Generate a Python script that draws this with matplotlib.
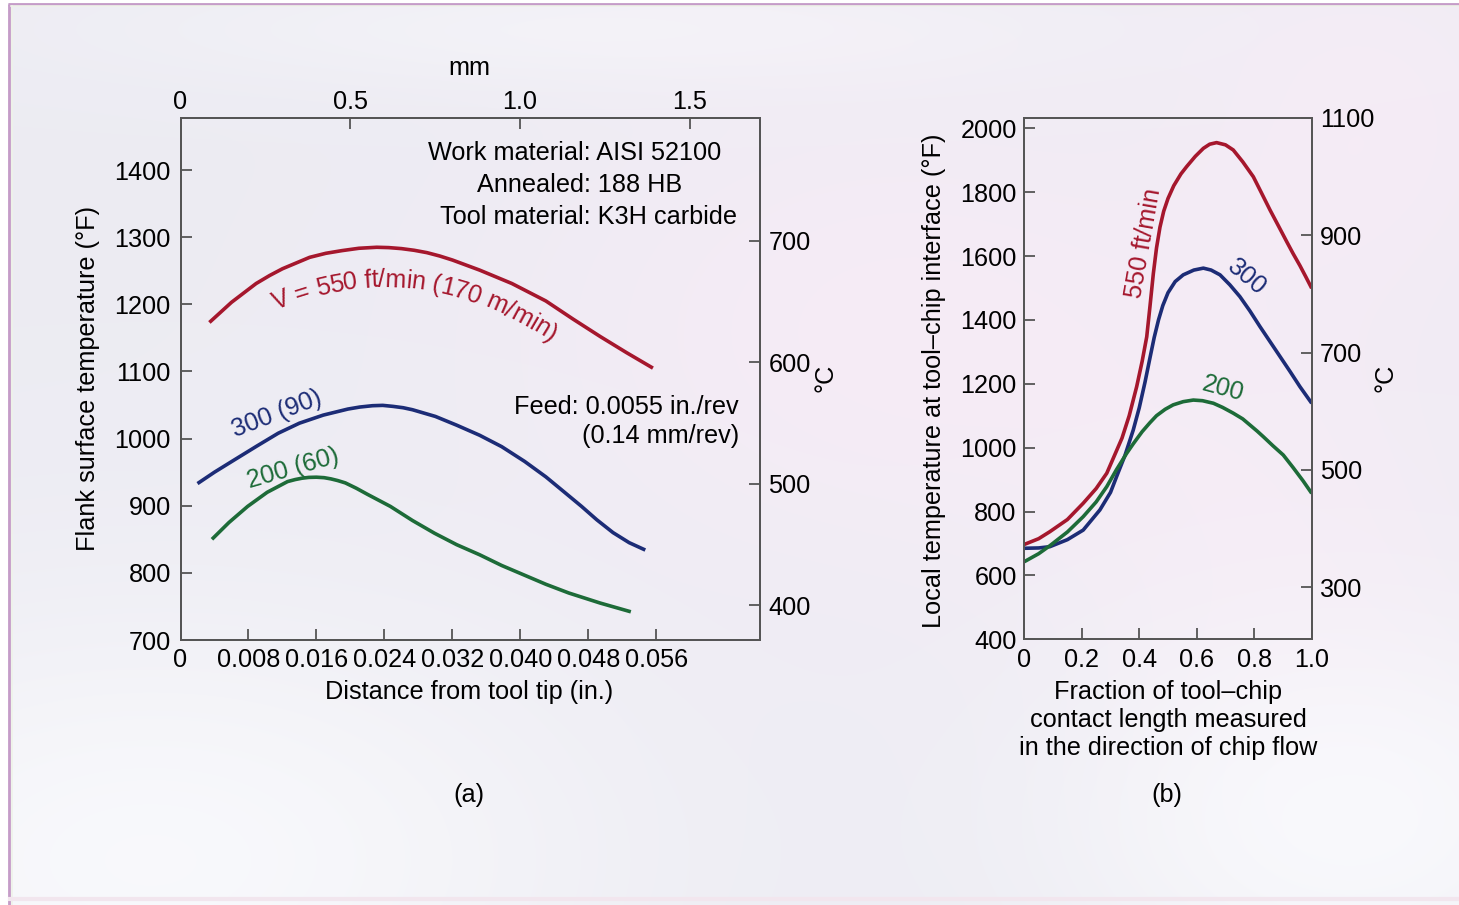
import numpy as np
import matplotlib
matplotlib.use("Agg")
import matplotlib.pyplot as plt
from matplotlib.transforms import IdentityTransform
from matplotlib.font_manager import FontProperties

plt.rcParams['font.family'] = ['Liberation Sans', 'DejaVu Sans']
FS = 18.2

# ---------------- data: panel (a) ----------------
a_red_x = [0.0034, 0.0060, 0.0089, 0.0105, 0.0120, 0.0152, 0.0171, 0.0190, 0.0210, 0.0231,
           0.0245, 0.0260, 0.0275, 0.0290, 0.0305, 0.0320, 0.0352, 0.0390, 0.0430, 0.0462,
           0.0494, 0.0525, 0.0556]
a_red_y = [1173, 1203, 1231, 1243, 1253, 1270, 1276, 1280, 1283.5, 1285,
           1284.5, 1283, 1280.5, 1277, 1272, 1266, 1251, 1231, 1205, 1178,
           1152, 1128, 1105]
a_blue_x = [0.0020, 0.0040, 0.0063, 0.0090, 0.0115, 0.0140, 0.0168, 0.0197, 0.0211, 0.0226,
            0.0238, 0.0250, 0.0262, 0.0273, 0.0300, 0.0325, 0.0352, 0.0378, 0.0405, 0.0430,
            0.0452, 0.0472, 0.0490, 0.0509, 0.0528, 0.0547]
a_blue_y = [933, 950, 968, 989, 1008, 1023, 1035, 1044, 1047, 1049,
            1049.5, 1048, 1046, 1043, 1033, 1020, 1005, 988, 966, 943,
            920, 899, 879, 860, 845, 834]
a_green_x = [0.0037, 0.0057, 0.0079, 0.0102, 0.0126, 0.0135, 0.0143, 0.0151, 0.0160, 0.0169,
             0.0177, 0.0185, 0.0194, 0.0207, 0.0220, 0.0247, 0.0273, 0.0299, 0.0325, 0.0352,
             0.0378, 0.0404, 0.0430, 0.0457, 0.0494, 0.0530]
a_green_y = [850, 875, 899, 920, 936, 939, 941, 942.2, 942.5, 941.8,
             940, 937.5, 934, 926, 917, 899, 878, 859, 842, 827,
             811, 797, 783, 770, 755, 742]
a_xticks = [0, 0.008, 0.016, 0.024, 0.032, 0.040, 0.048, 0.056]
a_xticklabels = ["0", "0.008", "0.016", "0.024", "0.032", "0.040", "0.048", "0.056"]
a_yticks = [700, 800, 900, 1000, 1100, 1200, 1300, 1400]
a_mm_ticks = [0, 0.5, 1.0, 1.5]
a_mm_labels = ["0", "0.5", "1.0", "1.5"]
a_c_ticks = [400, 500, 600, 700]
# path for the curved red label (data coords, character centres)
a_lab_x = [0.01135, 0.0184, 0.0255, 0.0332, 0.0403, 0.0437]
a_lab_y = [1206.7, 1232, 1239.5, 1221.6, 1184.4, 1159]

# ---------------- data: panel (b) ----------------
b_red_x = [0.0, 0.05, 0.089, 0.15, 0.205, 0.25, 0.287, 0.34, 0.365, 0.391, 0.41, 0.426,
           0.437, 0.449, 0.46, 0.472, 0.485, 0.50, 0.52, 0.545, 0.565, 0.595, 0.623, 0.645,
           0.669, 0.70, 0.727, 0.76, 0.797, 0.825, 0.855, 0.885, 0.913, 0.935, 0.959, 0.98,
           1.0]
b_red_y = [697, 715, 737, 775, 826, 872, 920, 1030, 1100, 1191, 1270, 1347,
           1440, 1545, 1625, 1690, 1740, 1780, 1820, 1857, 1880, 1912, 1937, 1950,
           1955, 1948, 1932, 1895, 1848, 1798, 1744, 1693, 1645, 1608, 1570, 1534,
           1499]
b_blue_x = [0.0, 0.05, 0.089, 0.15, 0.205, 0.263, 0.30, 0.321, 0.35, 0.379, 0.40, 0.42,
            0.437, 0.452, 0.467, 0.482, 0.50, 0.525, 0.553, 0.59, 0.623, 0.65, 0.681, 0.715,
            0.75, 0.785, 0.82, 0.855, 0.89, 0.925, 0.959, 1.0]
b_blue_y = [685, 686, 690, 712, 742, 805, 860, 909, 975, 1055, 1125, 1205,
            1280, 1345, 1400, 1445, 1485, 1520, 1541, 1556, 1562, 1556, 1541, 1510,
            1473, 1428, 1379, 1332, 1285, 1238, 1191, 1139]
b_green_x = [0.0, 0.05, 0.089, 0.15, 0.205, 0.25, 0.287, 0.32, 0.356, 0.379, 0.41, 0.437,
             0.46, 0.49, 0.518, 0.553, 0.588, 0.62, 0.658, 0.69, 0.727, 0.76, 0.785, 0.81,
             0.832, 0.865, 0.901, 0.935, 0.97, 1.0]
b_green_y = [643, 668, 693, 736, 784, 830, 878, 930, 982, 1012, 1050, 1078,
             1100, 1120, 1134, 1144, 1149, 1147, 1139, 1126, 1108, 1090, 1071, 1052,
             1034, 1006, 977, 938, 896, 857]
b_xticks = [0, 0.2, 0.4, 0.6, 0.8, 1.0]
b_xticklabels = ["0", "0.2", "0.4", "0.6", "0.8", "1.0"]
b_yticks = [400, 600, 800, 1000, 1200, 1400, 1600, 1800, 2000]
b_c_ticks = [300, 500, 700, 900, 1100]

RED, BLUE, GREEN = '#a5172d', '#1c2c76', '#1d6b38'
SPINE = '#555555'
LW = 2.6

W_PX, H_PX = 1459, 905
fig = plt.figure(figsize=(W_PX / 100, H_PX / 100), dpi=100)

# ---------------- background ----------------
ax_bg = fig.add_axes([0, 0, 1, 1], zorder=-10)
yy, xx = np.mgrid[0:H_PX, 0:W_PX]
base = np.ones((H_PX, W_PX, 3)) * np.array([0.928, 0.925, 0.952])


def blob(cx, cy, sx, sy):
    return np.exp(-(((xx - cx) / sx) ** 2 + ((yy - cy) / sy) ** 2))


pink = blob(900, 330, 380, 260) + 0.8 * blob(1380, 120, 200, 200) + 0.6 * blob(1300, 520, 250, 200)
white = blob(150, 860, 450, 250) + blob(1350, 820, 300, 200) + 0.5 * blob(600, 30, 500, 60)
img = base + pink[..., None] * np.array([0.035, 0.0, 0.012]) + white[..., None] * np.array([0.045, 0.05, 0.035])
img = np.clip(img, 0, 1)
ax_bg.imshow(img, extent=[0, W_PX, H_PX, 0], aspect='auto', interpolation='bilinear')
ax_bg.set_xlim(0, W_PX)
ax_bg.set_ylim(H_PX, 0)
ax_bg.axis('off')
# frame
ax_bg.fill_between([0, W_PX], 0, 3, color='white', lw=0)
ax_bg.fill_between([0, 8], 0, H_PX, color='white', lw=0)
ax_bg.plot([8, W_PX], [4.2, 4.2], color='#c59cc8', lw=2.0, solid_capstyle='butt')
ax_bg.plot([9.2, 9.2], [4, H_PX], color='#c59cc8', lw=2.0, solid_capstyle='butt')
ax_bg.plot([11, W_PX], [6.5, 6.5], color='#eef3e8', lw=1.2)
ax_bg.plot([11.5, 11.5], [6, H_PX], color='#eef3e8', lw=1.2)
ax_bg.plot([10, W_PX], [899, 899], color='#f2e6ee', lw=3)


def px_ax(l, t, r, b):
    return [l / W_PX, 1 - b / H_PX, (r - l) / W_PX, (b - t) / H_PX]


def fx(x):
    return x / W_PX


def fy(y):
    return 1 - y / H_PX


def style(ax):
    for s in ax.spines.values():
        s.set_color(SPINE)
        s.set_linewidth(1.3)
    ax.set_facecolor('none')


LINE_KW = dict(lw=LW, solid_capstyle='butt', solid_joinstyle='round')
TICK_KW = dict(direction='in', length=8, width=1.3, color=SPINE, labelsize=FS)

# ---------------- panel (a) ----------------
axa = fig.add_axes(px_ax(180.5, 117.7, 760, 640))
style(axa)
axa.plot(a_red_x, a_red_y, color=RED, **LINE_KW)
axa.plot(a_blue_x, a_blue_y, color=BLUE, **LINE_KW)
axa.plot(a_green_x, a_green_y, color=GREEN, **LINE_KW)
axa.set_xlim(0, 0.0682)
axa.set_ylim(700, 1478)
axa.set_xticks(a_xticks)
axa.set_xticklabels(a_xticklabels)
axa.set_yticks(a_yticks)
axa.tick_params(axis='x', pad=6, **TICK_KW)
axa.tick_params(axis='y', pad=7, **TICK_KW)

axa_top = axa.twiny()
style(axa_top)
axa_top.set_xlim(0, 1.707)
axa_top.set_xticks(a_mm_ticks)
axa_top.set_xticklabels(a_mm_labels)
axa_top.tick_params(axis='x', pad=2.5, **TICK_KW)

axa_c = axa.twinx()
style(axa_c)
axa_c.set_ylim(371.2, 801.6)
axa_c.set_yticks(a_c_ticks)
axa_c.tick_params(axis='y', pad=6, **TICK_KW)

fig.text(fx(469), fy(68), "mm", fontsize=FS, ha='center', va='center')
fig.text(fx(88), fy(378), "Flank surface temperature (°F)", fontsize=FS,
         rotation=90, ha='center', va='center')
fig.text(fx(826), fy(378), "°C", fontsize=FS, rotation=90, ha='center', va='center')
fig.text(fx(469), fy(692), "Distance from tool tip (in.)", fontsize=FS, ha='center', va='center')
fig.text(fx(469), fy(795), "(a)", fontsize=FS, ha='center', va='center')

fig.text(fx(575), fy(153), "Work material: AISI 52100", fontsize=FS, ha='center', va='center')
fig.text(fx(580), fy(185), "Annealed: 188 HB", fontsize=FS, ha='center', va='center')
fig.text(fx(589), fy(217), "Tool material: K3H carbide", fontsize=FS, ha='center', va='center')
fig.text(fx(739), fy(407), "Feed: 0.0055 in./rev", fontsize=FS, ha='right', va='center')
fig.text(fx(739), fy(436), "(0.14 mm/rev)", fontsize=FS, ha='right', va='center')

axa.text(0.01135, 1037, "300 (90)", color=BLUE, fontsize=FS, rotation=21,
         ha='center', va='center', rotation_mode='anchor')
axa.text(0.01324, 956, "200 (60)", color=GREEN, fontsize=FS, rotation=16,
         ha='center', va='center', rotation_mode='anchor')


def text_along(ax, xs, ys, s, color):
    r = fig.canvas.get_renderer()
    fp = FontProperties(family=['Liberation Sans'], size=FS)
    pts = ax.transData.transform(np.column_stack([xs, ys]))
    c = np.polyfit(pts[:, 0], pts[:, 1], 3)
    dc = np.polyder(c)
    X = np.linspace(pts[0, 0] - 40, pts[-1, 0] + 40, 2000)
    Y = np.polyval(c, X)
    S = np.concatenate([[0], np.cumsum(np.hypot(np.diff(X), np.diff(Y)))])

    def w(txt):
        return r.get_text_width_height_descent(txt, fp, ismath=False)[0]
    ref = w('M')
    total = w(s)
    s0 = np.interp(pts[0, 0], X, S)
    s1 = np.interp(pts[-1, 0], X, S)
    start = (s0 + s1) / 2 - total / 2
    em = FS * 100 / 72
    for i, ch in enumerate(s):
        if ch == ' ':
            continue
        left = (w(s[:i] + 'M') - ref) if i > 0 else 0
        cw = w(ch + 'M') - ref
        sc = start + left + cw / 2
        x = np.interp(sc, S, X)
        y = np.polyval(c, x)
        ang = np.arctan(np.polyval(dc, x))
        nx, ny = -np.sin(ang), np.cos(ang)
        off = 0.358 * em
        fig.text(x - nx * off, y - ny * off, ch, color=color, fontproperties=fp,
                 rotation=np.degrees(ang), ha='center', va='baseline',
                 rotation_mode='anchor', transform=IdentityTransform())


text_along(axa, a_lab_x, a_lab_y, "V = 550 ft/min (170 m/min)", RED)

# ---------------- panel (b) ----------------
axb = fig.add_axes(px_ax(1024.3, 117.7, 1311.7, 639.3))
style(axb)
axb.plot(b_red_x, b_red_y, color=RED, **LINE_KW)
axb.plot(b_blue_x, b_blue_y, color=BLUE, **LINE_KW)
axb.plot(b_green_x, b_green_y, color=GREEN, **LINE_KW)
axb.set_xlim(0, 1.0)
axb.set_ylim(400, 2033)
axb.set_xticks(b_xticks)
axb.set_xticklabels(b_xticklabels)
axb.set_yticks(b_yticks)
axb.tick_params(axis='x', pad=6, **TICK_KW)
axb.tick_params(axis='y', pad=5.5, **TICK_KW)

axb_c = axb.twinx()
style(axb_c)
axb_c.set_ylim(211.4, 1100.5)
axb_c.set_yticks(b_c_ticks)
axb_c.tick_params(axis='y', pad=6, **TICK_KW)

fig.text(fx(934), fy(381), "Local temperature at tool–chip interface (°F)", fontsize=FS,
         rotation=90, ha='center', va='center')
fig.text(fx(1385), fy(378), "°C", fontsize=FS, rotation=90, ha='center', va='center')
fig.text(fx(1168), fy(692), "Fraction of tool–chip", fontsize=FS, ha='center', va='center')
fig.text(fx(1168), fy(720.5), "contact length measured", fontsize=FS, ha='center', va='center')
fig.text(fx(1168), fy(748.5), "in the direction of chip flow", fontsize=FS, ha='center', va='center')
fig.text(fx(1167), fy(795), "(b)", fontsize=FS, ha='center', va='center')

fig.text(fx(1144), fy(243), "550 ft/min", color=RED, fontsize=FS, rotation=80,
         ha='center', va='center', rotation_mode='anchor')
fig.text(fx(1247), fy(277), "300", color=BLUE, fontsize=FS, rotation=-40,
         ha='center', va='center', rotation_mode='anchor')
fig.text(fx(1223), fy(389), "200", color=GREEN, fontsize=FS, rotation=-15,
         ha='center', va='center', rotation_mode='anchor')

fig.savefig("out.png", dpi=100)
